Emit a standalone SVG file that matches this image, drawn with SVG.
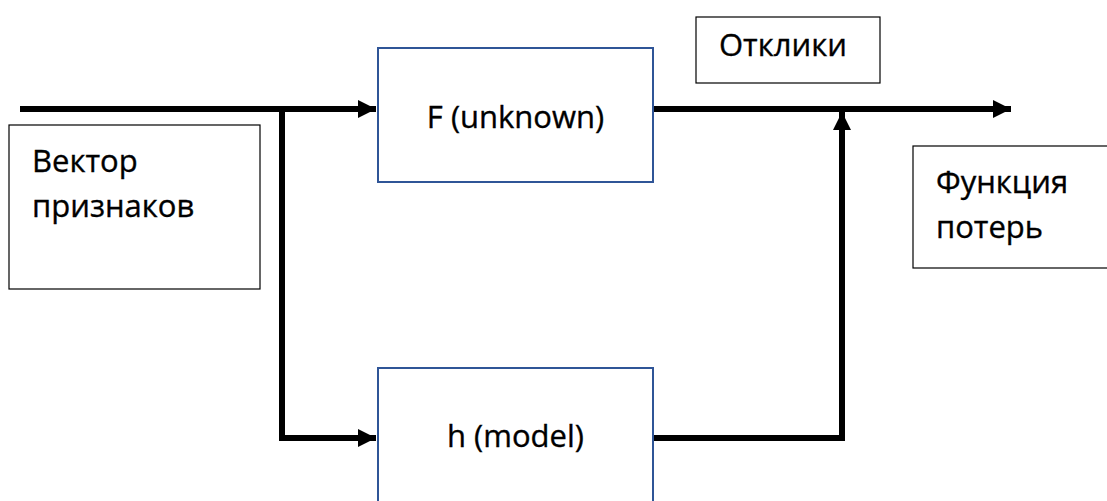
<svg xmlns="http://www.w3.org/2000/svg" width="1107" height="501" viewBox="0 0 1107 501">
  <style>
    .box { fill: #ffffff; stroke: #000000; stroke-width: 1.2; }
    .blue { fill: #ffffff; stroke: #2f5597; stroke-width: 2; }
    .wire { fill: none; stroke: #000000; stroke-width: 6; stroke-linejoin: miter; }
    .lbl { font-family: "Open Sans", "Noto Sans", "DejaVu Sans", sans-serif; font-size: 31px; fill: #000000; stroke: #000000; stroke-width: 0.35; }
  </style>
  <defs>
    <marker id="arrow" viewBox="0 0 10 10" refX="10" refY="5" markerWidth="3.2" markerHeight="3" markerUnits="strokeWidth" orient="auto">
      <path d="M0,0 L10,5 L0,10 Z" fill="#000000"/>
    </marker>
  </defs>
  <rect width="1107" height="501" fill="#ffffff"/>

  <!-- connectors -->
  <g id="connectors">
    <path class="wire" d="M20,109 H376" marker-end="url(#arrow)"/>
    <path class="wire" d="M282,109 V438 H376" marker-end="url(#arrow)"/>
    <path class="wire" d="M653,109 H1011" marker-end="url(#arrow)"/>
    <path class="wire" d="M653,438 H842 V112" marker-end="url(#arrow)"/>
  </g>

  <g id="features">
    <rect class="box" x="9" y="125" width="251" height="164"/>
    <text class="lbl" x="32" y="172">Вектор</text>
    <text class="lbl" x="32" y="217">признаков</text>
  </g>

  <g id="unknown">
    <rect class="blue" x="378" y="48" width="275" height="134"/>
    <text class="lbl" x="515.5" y="128" text-anchor="middle">F (unknown)</text>
  </g>

  <g id="model">
    <rect class="blue" x="378" y="368" width="275" height="140"/>
    <text class="lbl" x="515.5" y="447" text-anchor="middle">h (model)</text>
  </g>

  <g id="responses">
    <rect class="box" x="696" y="17" width="184" height="66"/>
    <text class="lbl" x="719" y="56">Отклики</text>
  </g>

  <g id="loss">
    <rect class="box" x="913" y="146" width="200" height="122"/>
    <text class="lbl" x="936" y="193">Функция</text>
    <text class="lbl" x="936" y="238">потерь</text>
  </g>
</svg>
